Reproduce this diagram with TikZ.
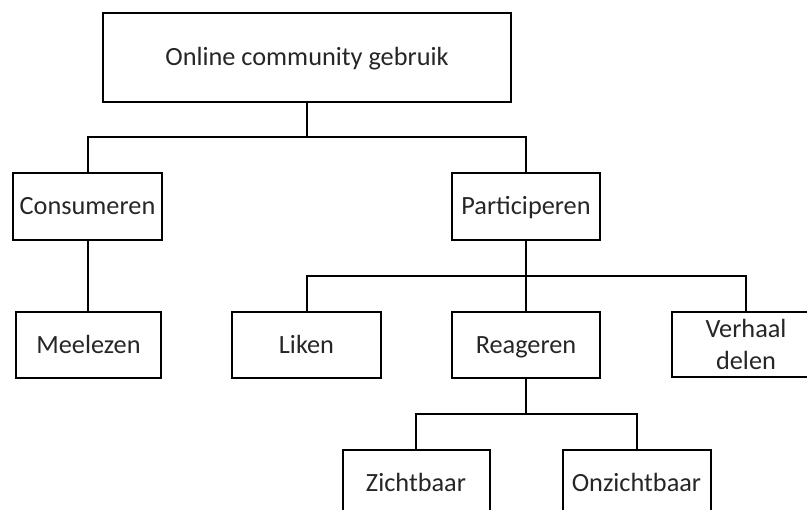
\documentclass[tikz,border=0pt]{standalone}
\usepackage{fontspec}
\setmainfont{Carlito}
\tikzset{
  catbox/.style={draw, line width=2pt, inner sep=0pt, align=center, text=black!85,
    font=\fontsize{26.3}{32}\selectfont, text height=17pt, text depth=0pt},
  conn/.style={line width=2pt}
}
\begin{document}
\begin{tikzpicture}[x=1pt,y=-1pt]
\useasboundingbox (0,0) rectangle (807,510);
\node[catbox, minimum width=408pt, minimum height=89pt] (top) at (307,57.5) {Online community gebruik};
\node[catbox, minimum width=149pt, minimum height=67pt] (cons) at (87.5,206.5) {Consumeren};
\node[catbox, minimum width=148pt, minimum height=67pt] (part) at (526,206.5) {Participeren};
\node[catbox, minimum width=145pt, minimum height=66pt] (meel) at (88.5,345) {Meelezen};
\node[catbox, minimum width=149pt, minimum height=66pt] (liken) at (306.5,345) {Liken};
\node[catbox, minimum width=148pt, minimum height=66pt] (reag) at (526,345) {Reageren};
\node[catbox, minimum width=148pt, minimum height=65pt, text height=49pt] (verh) at (746,345) {Verhaal\\delen};
\node[catbox, minimum width=147pt, minimum height=67pt] (zicht) at (416,483.5) {Zichtbaar};
\node[catbox, minimum width=148pt, minimum height=67pt] (onz) at (636.5,483.5) {Onzichtbaar};
\coordinate (t1) at (307,137);
\coordinate (t2) at (526,276);
\coordinate (t3) at (526,414);
\draw[conn] (top.south) -- (t1);
\draw[conn] (cons.north) |- (t1) -| (part.north);
\draw[conn] (cons.south) -- (cons.south |- meel.north);
\draw[conn] (part.south) -- (reag.north);
\draw[conn] (liken.north) |- (t2) -| (verh.north);
\draw[conn] (reag.south) -- (t3);
\draw[conn] (zicht.north) |- (t3) -| (onz.north);
\end{tikzpicture}
\end{document}
